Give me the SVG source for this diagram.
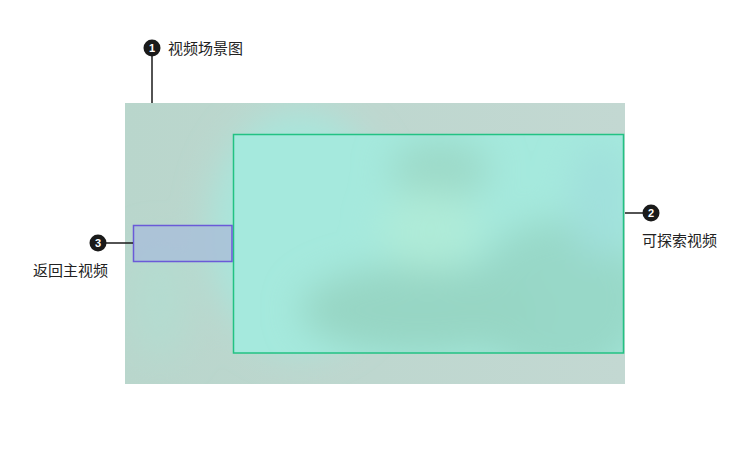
<svg xmlns="http://www.w3.org/2000/svg" width="750" height="450" viewBox="0 0 750 450">
<style>
.lbl{font-family:"Noto Sans CJK SC","Liberation Sans",sans-serif;font-size:15px;fill:#222}
.num{font-family:"Liberation Sans",sans-serif;font-size:11px;font-weight:bold;fill:#fff;text-anchor:middle}
.dot{fill:#1a1a1a}
.lead{stroke:#1a1a1a;stroke-width:1.5;fill:none}
</style>
<defs>
<filter id="blur" x="-20%" y="-20%" width="140%" height="140%"><feGaussianBlur stdDeviation="18"/></filter>
<clipPath id="sceneClip"><rect x="125" y="103" width="500" height="281"/></clipPath>
<clipPath id="greenClip"><rect x="233.5" y="134.5" width="390" height="218.5"/></clipPath>
<linearGradient id="bg" x1="0" y1="0" x2="1" y2="0">
<stop offset="0" stop-color="#b9d6cc"/><stop offset="1" stop-color="#c3d8d2"/>
</linearGradient>
</defs>
<rect width="750" height="450" fill="#fff"/>
<g id="scene">
<g clip-path="url(#sceneClip)">
<rect x="125" y="103" width="500" height="281" fill="url(#bg)"/>
<g filter="url(#blur)">
<ellipse cx="300" cy="230" rx="90" ry="120" fill="#a9e6dc"/>
<ellipse cx="160" cy="300" rx="30" ry="60" fill="#b4dcd0"/>
</g>
</g>
</g>
<g id="explore">
<rect x="233.5" y="134.5" width="390" height="218.5" fill="#a5e9dd"/>
<g clip-path="url(#greenClip)" filter="url(#blur)">
<ellipse cx="560" cy="300" rx="90" ry="80" fill="#98d8c8"/>
<ellipse cx="420" cy="310" rx="120" ry="45" fill="#97d6c4"/>
<ellipse cx="440" cy="170" rx="50" ry="30" fill="#9cd9c8"/>
<ellipse cx="430" cy="230" rx="50" ry="40" fill="#afebd8"/>
<ellipse cx="600" cy="200" rx="30" ry="60" fill="#a0e0dc"/>
</g>
<rect x="233.5" y="134.5" width="390" height="218.5" fill="none" stroke="#22c283" stroke-width="1.5"/>
</g>
<g id="back">
<rect x="133.5" y="225.5" width="98.5" height="36" fill="#a9bfd8" fill-opacity="0.85" stroke="#6a5ad8" stroke-width="1.5"/>
</g>
<g id="connectors">
<line class="lead" x1="152" y1="56" x2="152" y2="103"/>
<line class="lead" x1="106" y1="243" x2="133" y2="243"/>
<line class="lead" x1="625" y1="213" x2="643" y2="213"/>
</g>
<g id="callout1">
<circle class="dot" cx="152" cy="48" r="8.5"/>
<text class="num" x="152" y="52">1</text>
<text class="lbl" x="168" y="54">视频场景图</text>
</g>
<g id="callout2">
<circle class="dot" cx="651" cy="213" r="8.5"/>
<text class="num" x="651" y="217">2</text>
<text class="lbl" x="642" y="246">可探索视频</text>
</g>
<g id="callout3">
<circle class="dot" cx="98" cy="243" r="8.5"/>
<text class="num" x="98" y="247">3</text>
<text class="lbl" x="33" y="276">返回主视频</text>
</g>
</svg>
